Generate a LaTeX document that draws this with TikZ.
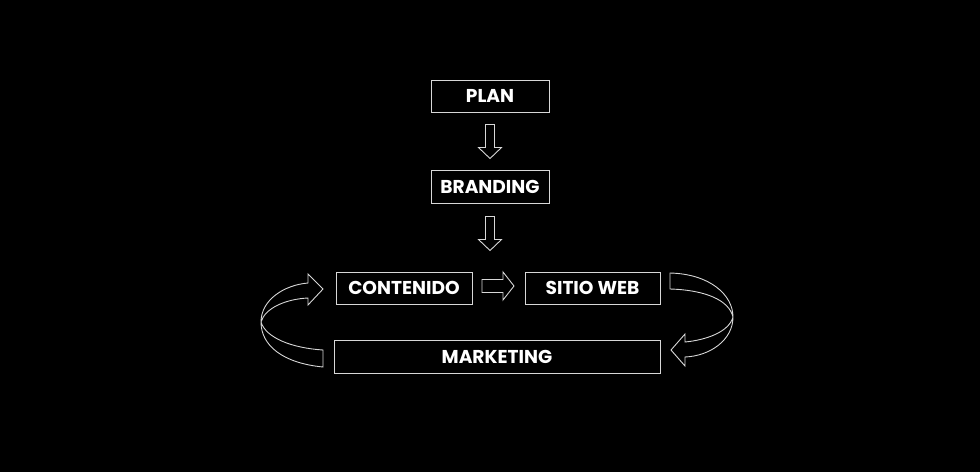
\documentclass[tikz,border=0pt]{standalone}
\usepackage{fontspec}
\setmainfont{Poppins}
\usepackage{xcolor}
\usepackage{tikz}
\usetikzlibrary{positioning, arrows.meta}

\definecolor{edge}{RGB}{215,215,215}

\tikzset{
  stage/.style={draw=edge, line width=1pt, text=white, inner sep=0pt,
    font=\fontsize{18.6}{19}\selectfont\bfseries},
  arrowline/.style={draw=edge, line width=0.9pt, line join=miter},
  pics/downarrow/.style={code={
    \draw[arrowline] (-4.5,-17) -- (-4.5,6) -- (-11.5,6) -- (0,17) -- (11.5,6) -- (4.5,6) -- (4.5,-17) -- cycle;
  }},
  pics/rightarrow/.style={code={
    \draw[arrowline] (-16,-6.5) -- (5,-6.5) -- (5,-14) -- (16,0) -- (5,14) -- (5,6.5) -- (-16,6.5) -- cycle;
  }}
}

\begin{document}
\begin{tikzpicture}[x=1pt, y=-1pt]
\fill[black] (0,0) rectangle (980,472);
\useasboundingbox (0,0) rectangle (980,472);

\node[stage, minimum width=118pt, minimum height=32pt] (plan) at (490,96) {PLAN};
\node[stage, minimum width=118pt, minimum height=33pt] (brand) at (490,186.5) {BRANDING};
\node[stage, minimum width=136pt, minimum height=32pt] (cont) at (404,288) {CONTENIDO};
\node[stage, minimum width=135pt, minimum height=32pt] (sitio) at (592.5,288) {SITIO WEB};
\node[stage, minimum width=326pt, minimum height=33pt] (mkt) at (497,356.5) {MARKETING};

\pic at (490,141.5) {downarrow};
\pic at (490,233.5) {downarrow};
\pic at (498,286) {rightarrow};

% bucle izquierdo
\draw[arrowline] (323,350) -- (323,367)
  .. controls (282,363) and (261,345) .. (261,322)
  .. controls (261,300) and (284,285) .. (308,283)
  -- (308,274) -- (323,289) -- (308,305) -- (308,298)
  .. controls (286,299) and (265,308) .. (261,322)
  .. controls (266,338) and (292,348) .. (323,350) -- cycle;

% bucle derecho
\draw[arrowline] (670,289) -- (670,273)
  .. controls (710,274) and (733,295) .. (733,317)
  .. controls (733,340) and (710,356) .. (685,357)
  -- (685,366) -- (671,350) -- (685,334) -- (685,342)
  .. controls (706,340) and (729,332) .. (733,317)
  .. controls (729,300) and (705,290) .. (670,289) -- cycle;
\end{tikzpicture}
\end{document}
